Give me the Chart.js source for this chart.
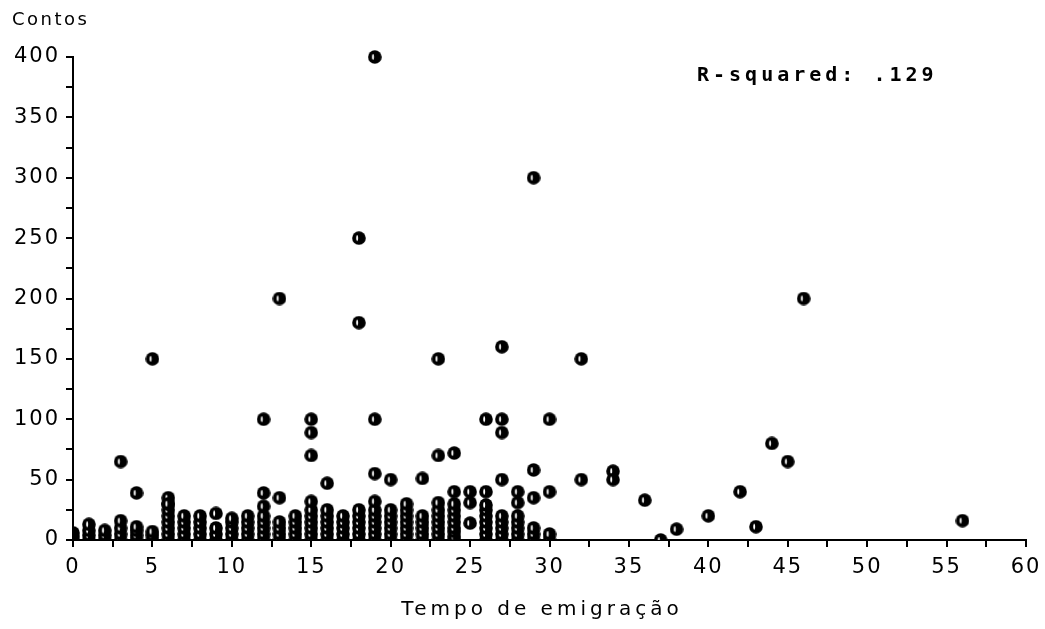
<!DOCTYPE html>
<html><head><meta charset="utf-8">
<script src="https://cdn.jsdelivr.net/npm/chart.js@4.4.1/dist/chart.umd.min.js"></script>
<style>html,body{margin:0;padding:0;background:#fff}#wrap{width:1045px;height:629px}</style>
</head><body><div id="wrap"><canvas id="c" width="1045" height="629"></canvas></div>
<script>
// Tick labels
const xTickLabels = ['0','5','10','15','20','25','30','35','40','45','50','55','60'];
const yTickLabels = ['0','50','100','150','200','250','300','350','400'];
const xTitle = 'Tempo de emigração';
const yTitle = 'Contos';
const rSquaredText = 'R-squared: .129';

// Dense low-value points (Tempo de emigração, Contos)
const clusterX = [
 0,0,0, 1,1,1,1, 2,2,2, 3,3,3,3, 4,4,4,4, 5,5,5,
 6,6,6,6,6,6,6,6, 7,7,7,7,7, 8,8,8,8,8, 9,9,9, 10,10,10,10,10,
 11,11,11,11,11, 12,12,12,12,12,12, 13,13,13,13, 14,14,14,14,14,
 15,15,15,15,15,15, 16,16,16,16,16,16, 17,17,17,17,17, 18,18,18,18,18,18,
 19,19,19,19,19,19, 20,20,20,20,20,20, 21,21,21,21,21,21, 22,22,22,22,22,
 23,23,23,23,23,23, 24,24,24,24,24,24,24,24, 25,25,
 26,26,26,26,26,26,26, 27,27,27,27,27, 28,28,28,28,28, 29,29,29, 30,30
];
const clusterY = [
 0,3,6, 0,4,8,13, 0,4,8, 0,5,10,16, 0,4,8,11, 0,4,7,
 0,5,10,15,20,25,30,35, 0,5,10,15,20, 0,5,10,15,20, 0,5,10, 0,5,10,15,18,
 0,5,10,15,20, 0,5,10,15,20,28, 0,5,10,15, 0,5,10,15,20,
 0,5,10,15,20,25, 0,5,10,15,20,25, 0,5,10,15,20, 0,5,10,15,20,25,
 0,5,10,15,20,25, 0,5,10,15,20,25, 0,5,10,15,20,25, 0,5,10,15,20,
 0,5,10,15,20,25, 0,3,7,10,15,20,25,30, 14,31,
 0,5,10,15,20,25,29, 0,5,10,15,20, 0,5,10,15,20, 0,5,10, 0,5
];

// Scattered points
const outlierX = [19,29,18,18,13,46,5,23,27,32, 12,15,15,19,26,27,27,30,
 3,15,23,24,44,45,29,34,34,32,27,22,20,19,16,4,12,13,6,9,15,19,21,23,
 28,28,29,30,26,25,24, 36,37,38,40,42,43,56];
const outlierY = [400,300,250,180,200,200,150,150,160,150, 100,100,89,100,100,100,89,100,
 65,70,70,72,80,65,58,57,50,50,50,51,50,55,47,39,39,35,30,22,32,32,30,31,
 40,31,35,40,40,40,40, 33,0,9,20,40,11,16];

const points = [];
clusterX.forEach((x,i)=>points.push({x:x,y:clusterY[i]}));
outlierX.forEach((x,i)=>points.push({x:x,y:outlierY[i]}));

// marker image: black ball with white highlight
function makeMarker(){
  const c=document.createElement('canvas'); c.width=14; c.height=14;
  const g=c.getContext('2d');
  g.fillStyle='#000'; g.beginPath(); g.arc(7,7,6.8,0,Math.PI*2); g.fill();
  g.fillStyle='#fff'; g.beginPath(); g.ellipse(5.2,7,1.0,3.0,0,0,Math.PI*2); g.fill();
  return c;
}
const marker = makeMarker();

const FONT = 'DejaVu Sans';
const textPlugin = {
  id:'texts',
  beforeDraw(chart){ chart.ctx.letterSpacing='2px'; },
  afterDraw(chart){
    const g=chart.ctx; g.save();
    g.fillStyle='#000'; g.textBaseline='middle'; g.textAlign='left';
    g.letterSpacing='2.5px';
    g.font='18px "'+FONT+'"';
    g.fillText(yTitle,12,20);
    g.letterSpacing='4px';
    g.font='20px "'+FONT+'"';
    g.textAlign='center';
    g.fillText(xTitle,542,610);
    g.textAlign='left';
    g.font='bold 20px "DejaVu Sans Mono"';
    g.fillText(rSquaredText,697,76);
    g.restore();
  }
};

new Chart(document.getElementById('c'),{
  type:'scatter',
  data:{datasets:[{data:points,pointStyle:marker,radius:7,hoverRadius:7,backgroundColor:'#000',borderColor:'#000',
    clip:{left:0,top:12,right:12,bottom:0}}]},
  options:{
    responsive:false,animation:false,
    layout:{padding:{top:57,right:19,bottom:0,left:0}},
    plugins:{legend:{display:false},tooltip:{enabled:false}},
    scales:{
      x:{type:'linear',min:0,max:60,
        afterFit(s){s.height=89;s.paddingRight=0;s.paddingLeft=0;},
        ticks:{stepSize:2.5,autoSkip:false,maxRotation:0,color:'#000',font:{family:FONT,size:21},padding:8,
          callback:v=>(v%5===0?xTickLabels[v/5]:'')},
        grid:{drawOnChartArea:false,drawTicks:true,tickLength:7,color:'#000',lineWidth:2},
        border:{display:true,color:'#000',width:2},
        title:{display:false}
      },
      y:{type:'linear',min:0,max:400,
        afterFit(s){s.width=73;},
        ticks:{stepSize:25,autoSkip:false,color:'#000',font:{family:FONT,size:21},padding:6,
          callback:v=>(v%50===0?yTickLabels[v/50]:'')},
        grid:{drawOnChartArea:false,drawTicks:true,tickLength:7,color:'#000',lineWidth:2},
        border:{display:true,color:'#000',width:2}
      }
    }
  },
  plugins:[textPlugin]
});
</script></body></html>
